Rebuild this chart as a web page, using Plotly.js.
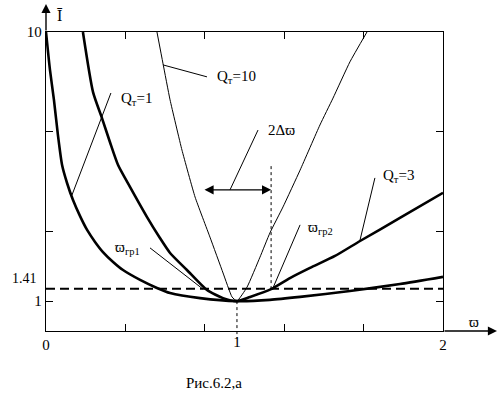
<!DOCTYPE html>
<html>
<head>
<meta charset="utf-8">
<script src="https://cdn.plot.ly/plotly-3.0.1.min.js"></script>
<style>html,body{margin:0;padding:0;background:#fff;}#chart{width:502px;height:399px;}</style>
</head>
<body>
<div id="chart"></div>
<script>
// Curve samples (x = normalized frequency, y = |I|)
const q1X = [0, 0.02, 0.04, 0.06, 0.081, 0.106, 0.136, 0.171, 0.207, 0.247, 0.287, 0.338, 0.388, 0.474, 0.559, 0.625, 0.776, 0.962, 1.128, 1.28, 1.531, 1.783, 2.0];
const q1Y = [10.0, 8.73, 7.73, 6.56, 5.55, 4.95, 4.38, 3.85, 3.38, 2.98, 2.64, 2.31, 2.04, 1.71, 1.44, 1.27, 1.10, 1.00, 1.04, 1.14, 1.34, 1.57, 1.81];

const q3X = [0.186, 0.237, 0.282, 0.322, 0.363, 0.423, 0.509, 0.574, 0.625, 0.710, 0.811, 0.892, 0.962, 1.028, 1.134, 1.229, 1.330, 1.456, 1.582, 1.783, 2.0];
const q3Y = [10.0, 7.99, 7.12, 6.32, 5.55, 4.82, 3.81, 3.11, 2.61, 2.04, 1.37, 1.10, 1.00, 1.14, 1.40, 1.77, 2.11, 2.51, 3.01, 3.78, 4.62];

const q10X = [0.559, 0.589, 0.625, 0.685, 0.751, 0.826, 0.892, 0.937, 0.962, 1.013, 1.078, 1.128, 1.194, 1.28, 1.380, 1.446, 1.531, 1.617];
const q10Y = [10.0, 8.96, 7.73, 6.05, 4.48, 3.14, 1.94, 1.14, 1.00, 1.47, 2.47, 3.28, 4.15, 5.38, 6.89, 7.79, 9.0, 10.0];

// Marked values
const resonanceX = 0.962;      // where the label "1" sits under the minimum
const levelY = 1.41;           // dashed level line
const bandLeftX = 0.791;       // 2Δϖ arrow ends
const bandRightX = 1.134;
const bandY = 4.72;

// Tick labels
const xTickVals = [0, 0.4, 0.8, 1.2, 1.6, 2];
const xTickText = ['0', '', '', '', '', '2'];
const yTickVals = [1, 3.333, 6.667, 10];
const yTickText = ['1', '', '', '10'];

const FONT = '"Liberation Serif", "DejaVu Serif", serif';

const traces = [
  {x: q1X, y: q1Y, mode: 'lines', line: {color: '#000', width: 2.6, shape: 'spline', smoothing: 0.6}, hoverinfo: 'skip'},
  {x: q3X, y: q3Y, mode: 'lines', line: {color: '#000', width: 2.6, shape: 'spline', smoothing: 0.6}, hoverinfo: 'skip'},
  {x: q10X, y: q10Y, mode: 'lines', xaxis: 'x2', line: {color: '#000', width: 1, shape: 'spline', smoothing: 0.4}, hoverinfo: 'skip'}
];

function leader(x0, y0, x1, y1) {
  return {type: 'line', xref: 'x', yref: 'y', x0: x0, y0: y0, x1: x1, y1: y1, line: {color: '#000', width: 1}};
}

const shapes = [
  {type: 'line', xref: 'paper', yref: 'y', x0: 0, x1: 1, y0: levelY, y1: levelY, line: {color: '#000', width: 2, dash: '9px,5px'}},
  {type: 'line', xref: 'x', yref: 'paper', x0: resonanceX, x1: resonanceX, y0: 0.1, y1: -0.025, line: {color: '#000', width: 1, dash: '3px,3px'}},
  {type: 'line', xref: 'x', yref: 'y', x0: bandRightX, x1: bandRightX, y0: 1.40, y1: 5.52, line: {color: '#000', width: 1, dash: '3px,3px'}},
  leader(0.327, 7.96, 0.131, 4.55),   // Qт=1
  leader(0.589, 8.9, 0.811, 8.5),     // Qт=10
  leader(1.068, 6.72, 0.927, 4.72),   // 2Δϖ
  leader(0.524, 2.78, 0.791, 1.40),   // ϖгр1
  leader(1.28, 3.55, 1.139, 1.37),    // ϖгр2
  leader(1.657, 5.12, 1.582, 3.04)    // Qт=3
];

function label(text, x, y, anchor) {
  return {text: text, x: x, y: y, xref: 'x', yref: 'y', showarrow: false, xanchor: anchor || 'left', yanchor: 'middle', font: {family: FONT, size: 15, color: '#000'}};
}

const annotations = [
  label('Q<sub>т</sub>=1', 0.37, 7.75),
  label('Q<sub>т</sub>=10', 0.85, 8.5),
  label('2Δϖ', 1.107, 6.72),
  label('ϖ<sub>гр1</sub>', 0.335, 2.78),
  label('ϖ<sub>гр2</sub>', 1.31, 3.45),
  label('Q<sub>т</sub>=3', 1.69, 5.2),
  {text: '1.41', xref: 'paper', yref: 'y', x: 0, y: levelY, xanchor: 'right', yanchor: 'middle', xshift: -7, yshift: 10, showarrow: false, font: {family: FONT, size: 14, color: '#000'}},
  {text: '', xref: 'x', yref: 'y', x: bandRightX, y: bandY, axref: 'x', ayref: 'y', ax: bandLeftX, ay: bandY, showarrow: true, arrowhead: 2, arrowside: 'end+start', arrowsize: 1.3, arrowwidth: 1.4, arrowcolor: '#000'},
  {text: '', xref: 'paper', yref: 'paper', x: 1.136, y: 0, ax: -54, ay: 0, showarrow: true, arrowhead: 2, arrowsize: 1.3, arrowwidth: 1.4, arrowcolor: '#000'},
  {text: '', xref: 'paper', yref: 'paper', x: 0, y: 1.094, ax: 0, ay: 28, showarrow: true, arrowhead: 2, arrowsize: 1.3, arrowwidth: 1.4, arrowcolor: '#000'},
  {text: 'ϖ', xref: 'paper', yref: 'paper', x: 1.078, y: 0.03, xanchor: 'center', yanchor: 'middle', showarrow: false, font: {family: FONT, size: 15, color: '#000'}},
  {text: 'Ī', xref: 'paper', yref: 'paper', x: 0.035, y: 1.055, xanchor: 'center', yanchor: 'middle', showarrow: false, font: {family: FONT, size: 16, color: '#000'}},
  {text: 'Рис.6.2,а', xref: 'paper', yref: 'paper', x: 0.423, y: -0.174, xanchor: 'center', yanchor: 'middle', showarrow: false, font: {family: FONT, size: 15, color: '#000'}}
];

const axisCommon = {
  showgrid: false, zeroline: false, showline: true, linecolor: '#000', linewidth: 1.3,
  ticks: 'inside', ticklen: 7, tickwidth: 1.2, tickcolor: '#000', mirror: 'ticks',
  tickfont: {family: FONT, size: 15, color: '#000'}, fixedrange: true
};

const layout = {
  width: 502, height: 399,
  margin: {l: 46, r: 59, t: 32, b: 68, pad: 0},
  paper_bgcolor: '#fff', plot_bgcolor: '#fff',
  showlegend: false,
  font: {family: FONT, color: '#000'},
  xaxis: Object.assign({}, axisCommon, {range: [0, 2], tickmode: 'array', tickvals: xTickVals, ticktext: xTickText}),
  xaxis2: {overlaying: 'x', anchor: 'y', side: 'bottom', range: [0, 2], showgrid: false, zeroline: false, showline: false, ticks: '', tickmode: 'array', tickvals: [resonanceX], ticktext: ['1'], tickfont: {family: FONT, size: 15, color: '#000'}, fixedrange: true},
  yaxis: Object.assign({}, axisCommon, {range: [0, 10], tickmode: 'array', tickvals: yTickVals, ticktext: yTickText}),
  shapes: shapes,
  annotations: annotations
};

Plotly.newPlot('chart', traces, layout, {staticPlot: true, displayModeBar: false});
</script>
</body>
</html>
